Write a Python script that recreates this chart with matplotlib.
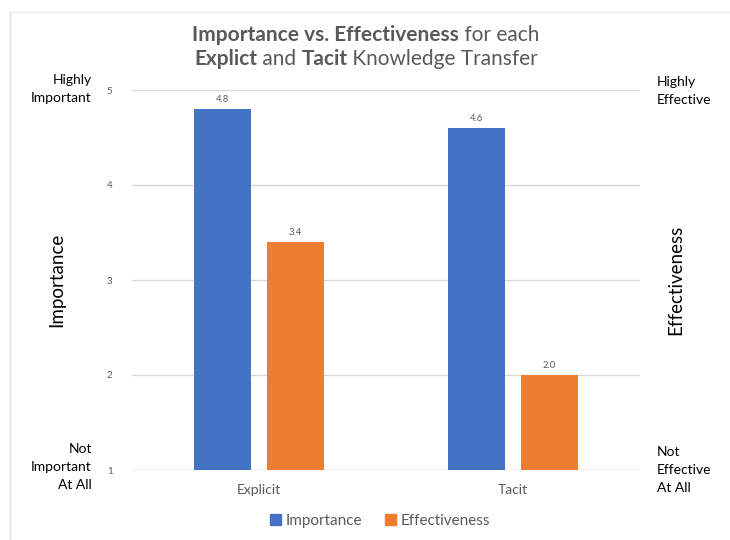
import matplotlib
matplotlib.use("Agg")
import matplotlib.pyplot as plt
import numpy as np
from matplotlib.patches import Rectangle
from matplotlib.lines import Line2D

plt.rcParams['font.family'] = ['Lato', 'DejaVu Sans']

categories = ["Explicit", "Tacit"]
importance = [4.8, 4.6]
effectiveness = [3.4, 2.0]
series_names = ["Importance", "Effectiveness"]
yticks = [1, 2, 3, 4, 5]

BLUE = "#4472C4"
ORANGE = "#ED7D31"
GRID = "#D9D9D9"
TXT = "#595959"

fig = plt.figure(figsize=(7.3, 5.4), dpi=100)
W, H = 730, 540
ax = fig.add_axes([132 / W, 1 - 470 / H, (640 - 132) / W, (470 - 90) / H])

x = np.arange(len(categories))
bw = 0.224
off = 0.144
base = 1
ax.bar(x - off, np.array(importance) - base, bw, bottom=base, color=BLUE, zorder=3)
ax.bar(x + off, np.array(effectiveness) - base, bw, bottom=base, color=ORANGE, zorder=3)
for xs, vals in ((x - off, importance), (x + off, effectiveness)):
    for xi, v in zip(xs, vals):
        ax.text(xi, v + 0.05, f"{v:.1f}", ha="center", va="bottom", fontsize=6.8, color=TXT)

ax.set_xlim(-0.5, 1.5)
ax.set_ylim(1, 5)
ax.set_yticks(yticks)
ax.set_yticklabels([str(t) for t in yticks], fontsize=7, color=TXT)
ax.set_xticks(x)
ax.set_xticklabels(categories, fontsize=10, color=TXT)
ax.tick_params(axis='both', length=0)
ax.tick_params(axis='y', pad=14)
ax.tick_params(axis='x', pad=10)
ax.yaxis.grid(True, color=GRID, linewidth=1, zorder=0)
for s in ax.spines.values():
    s.set_visible(False)
ax.axhline(1, color=GRID, linewidth=1, zorder=1)

# Side labels
LS = 1.6
fig.text(92 / W, 1 - 89 / H, "Highly\nImportant", ha="right", va="center", fontsize=10, color="black", linespacing=LS)
fig.text(92 / W, 1 - 467 / H, "Not\nImportant\nAt All", ha="right", va="center", fontsize=10, color="black", linespacing=LS)
fig.text(57 / W, 1 - 280 / H, "Importance", ha="center", va="center", rotation=90, fontsize=13.5, color="black")
fig.text(657 / W, 1 - 91 / H, "Highly\nEffective", ha="left", va="center", fontsize=10, color="black", linespacing=LS)
fig.text(657 / W, 1 - 470 / H, "Not\nEffective\nAt All", ha="left", va="center", fontsize=10, color="black", linespacing=LS)
fig.text(676 / W, 1 - 280 / H, "Effectiveness", ha="center", va="center", rotation=90, fontsize=13.5, color="black")

# Title with mixed bold
fig.canvas.draw()
renderer = fig.canvas.get_renderer()

def mixed_line(segments, cx, cy, size):
    texts = []
    widths = []
    for s, bold in segments:
        t = fig.text(0, cy, s, fontsize=size, fontweight='bold' if bold else 'normal',
                     color=TXT, ha='left', va='center')
        bb = t.get_window_extent(renderer)
        texts.append(t)
        widths.append(bb.width)
    total = sum(widths)
    start = cx * W - total / 2
    for t, w in zip(texts, widths):
        t.set_x(start / W)
        start += w

mixed_line([("Importance vs. Effectiveness", True), (" for each", False)], 366 / W, 1 - 35 / H, 15)
mixed_line([("Explict", True), (" and ", False), ("Tacit", True), (" Knowledge Transfer", False)], 366 / W, 1 - 59 / H, 15)

# Legend
fig.legend([Rectangle((0, 0), 1, 1, color=BLUE), Rectangle((0, 0), 1, 1, color=ORANGE)],
           series_names, loc='center', bbox_to_anchor=(380 / W, 1 - 521 / H), ncol=2,
           frameon=False, fontsize=11, handlelength=0.7, handleheight=0.7,
           handletextpad=0.3, columnspacing=1.5, labelcolor=TXT)

# Border lines
fig.add_artist(Line2D([10 / W, 10 / W], [0, 1 - 12 / H], color="#E0E0E0", linewidth=1, transform=fig.transFigure))
fig.add_artist(Line2D([10 / W, 1], [1 - 12 / H, 1 - 12 / H], color="#F0F0F0", linewidth=1, transform=fig.transFigure))

fig.savefig("out.png", dpi=100)
